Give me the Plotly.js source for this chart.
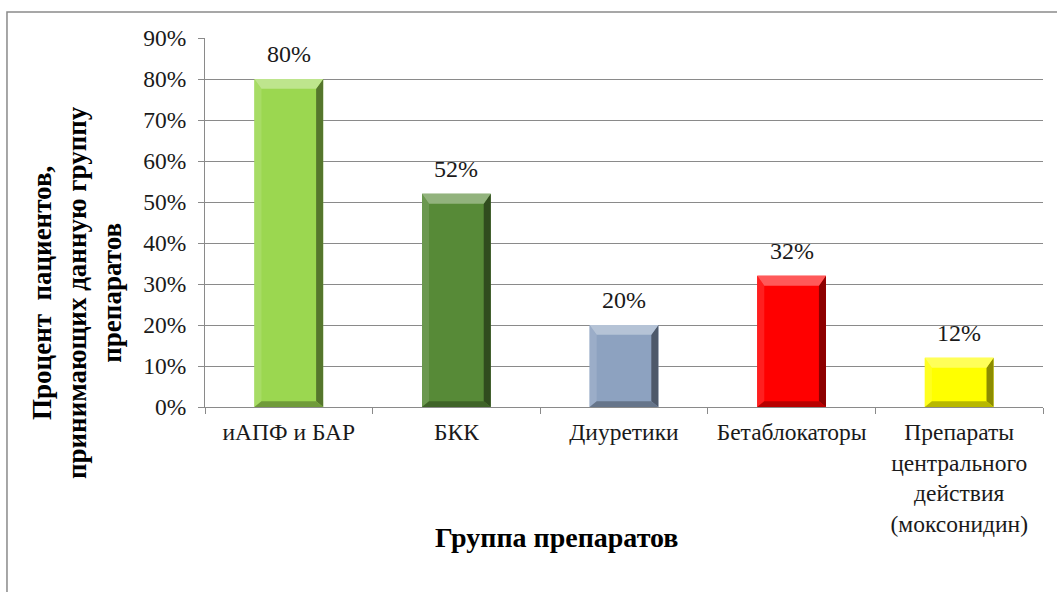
<!DOCTYPE html>
<html>
<head>
<meta charset="utf-8">
<script src="https://cdn.plot.ly/plotly-3.0.1.min.js"></script>
<style>
  html, body { margin: 0; padding: 0; background: #ffffff; }
  #chart { width: 1057px; height: 592px; }
</style>
</head>
<body>
<div id="chart"></div>
<script>
// Drug groups and the share of patients taking each group, %
const categories = [
  'иАПФ и БАР',
  'БКК',
  'Диуретики',
  'Бетаблокаторы',
  'Препараты<br>центрального<br>действия<br>(моксонидин)'
];
const shares = [80, 52, 20, 32, 12];
const barColors = ['#9BD750', '#578A37', '#8DA2C0', '#FF0000', '#FFFF00'];
const yTicks = [0, 10, 20, 30, 40, 50, 60, 70, 80, 90];
const yTickLabels = ['0%', '10%', '20%', '30%', '40%', '50%', '60%', '70%', '80%', '90%'];
const yTitleLines = ['Процент\u00A0\u00A0пациентов,', 'принимающих данную группу', 'препаратов'];
const xTitle = 'Группа препаратов';

const FONT = 'Liberation Serif, Times New Roman, serif';
const BAR_W = 0.41;

// blend a hex colour towards white (t>0) or black (t<0)
function shade(hex, t) {
  const n = parseInt(hex.slice(1), 16);
  let r = (n >> 16) & 255, g = (n >> 8) & 255, b = n & 255;
  const target = t > 0 ? 255 : 0, k = Math.abs(t);
  r = Math.round(r + (target - r) * k);
  g = Math.round(g + (target - g) * k);
  b = Math.round(b + (target - b) * k);
  return 'rgb(' + r + ',' + g + ',' + b + ')';
}

// bevelled edges of each bar, placed in data coordinates
const shapes = [];
const dx = 0.042, dTop = 2.4, dBot = 1.4;
shares.forEach((v, i) => {
  const x0 = i - BAR_W / 2, x1 = i + BAR_W / 2, c = barColors[i];
  const p = pts => 'M' + pts.map(q => q[0] + ',' + q[1]).join('L') + 'Z';
  const add = (path, fill) => shapes.push({
    type: 'path', xref: 'x', yref: 'y', path: path,
    fillcolor: fill, line: { width: 0 }, layer: 'above'
  });
  add(p([[x0, 0], [x0, v], [x0 + dx, v - dTop], [x0 + dx, dBot]]), shade(c, 0.12));
  add(p([[x1, 0], [x1, v], [x1 - dx, v - dTop], [x1 - dx, dBot]]), shade(c, -0.45));
  add(p([[x0, 0], [x1, 0], [x1 - dx, dBot], [x0 + dx, dBot]]), shade(c, -0.28));
  add(p([[x0, v], [x1, v], [x1 - dx, v - dTop], [x0 + dx, v - dTop]]), shade(c, 0.35));
});

// frame around the whole chart
shapes.push({
  type: 'rect', xref: 'paper', yref: 'paper',
  x0: -0.2363, x1: 1.2, y0: -0.7, y1: 1.0705,
  line: { color: '#8a8a8a', width: 1.5 }, fillcolor: 'rgba(0,0,0,0)', layer: 'below'
});

const annotations = shares.map((v, i) => ({
  x: categories[i], y: v, xref: 'x', yref: 'y',
  text: v + '%', showarrow: false, yanchor: 'bottom', yshift: 10,
  font: { family: FONT, size: 24, color: '#1a1a1a' }
}));

annotations.push({
  xref: 'paper', yref: 'paper', x: -0.1527, y: 0.309,
  text: yTitleLines.join('<br>'), textangle: -90, showarrow: false,
  xanchor: 'center', yanchor: 'middle', align: 'center',
  font: { family: FONT, size: 27, color: '#000000', weight: 'bold' }
});
annotations.push({
  xref: 'paper', yref: 'paper', x: 0.42, y: -0.355,
  text: xTitle, showarrow: false, xanchor: 'center', yanchor: 'middle',
  font: { family: FONT, size: 28, color: '#000000', weight: 'bold' }
});

const trace = {
  type: 'bar',
  x: categories,
  y: shares,
  width: BAR_W,
  marker: { color: barColors, line: { width: 0 } },
  hoverinfo: 'skip'
};

const layout = {
  width: 1057, height: 592,
  margin: { l: 205, r: 14, t: 38, b: 185 },
  paper_bgcolor: '#ffffff', plot_bgcolor: '#ffffff',
  showlegend: false,
  font: { family: FONT, size: 23.5, color: '#1a1a1a' },
  xaxis: {
    type: 'category',
    tickson: 'boundaries', tickangle: 0,
    ticks: 'outside', ticklen: 6, tickcolor: '#8a8a8a', tickwidth: 1,
    showline: true, linecolor: '#8a8a8a', linewidth: 1,
    showgrid: false, zeroline: false,
    ticklabelstandoff: 4,
    tickfont: { family: FONT, size: 23.5, color: '#1a1a1a' }
  },
  yaxis: {
    range: [0, 90],
    tickmode: 'array', tickvals: yTicks, ticktext: yTickLabels,
    ticks: 'outside', ticklen: 6, tickcolor: '#8a8a8a', tickwidth: 1,
    showline: true, linecolor: '#8a8a8a', linewidth: 1,
    showgrid: true, gridcolor: '#8a8a8a', gridwidth: 1,
    zeroline: false,
    ticklabelstandoff: 7,
    tickfont: { family: FONT, size: 23.5, color: '#1a1a1a' }
  },
  shapes: shapes,
  annotations: annotations
};

Plotly.newPlot('chart', [trace], layout, { displayModeBar: false, staticPlot: true });
</script>
</body>
</html>
